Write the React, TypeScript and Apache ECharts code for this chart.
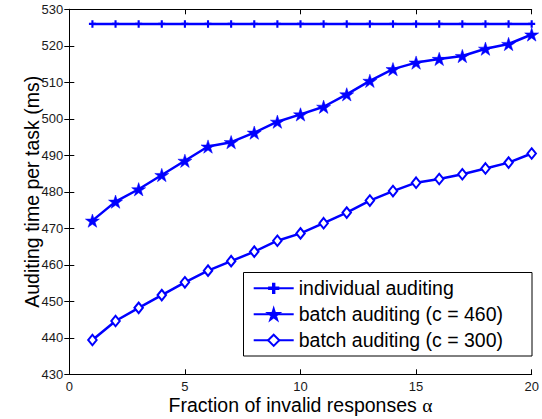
import React, { useEffect, useRef } from "react";
import * as echarts from "echarts";

const alphaValues = [1, 2, 3, 4, 5, 6, 7, 8, 9, 10, 11, 12, 13, 14, 15, 16, 17, 18, 19, 20];
const individualAuditing = [526, 526, 526, 526, 526, 526, 526, 526, 526, 526, 526, 526, 526, 526, 526, 526, 526, 526, 526, 526];
const batch460 = [472.1, 477.3, 480.7, 484.6, 488.5, 492.4, 493.6, 496.2, 499.2, 501.2, 503.3, 506.7, 510.4, 513.6, 515.4, 516.4, 517.2, 519.2, 520.5, 523.1];
const batch300 = [439.4, 444.6, 448.2, 451.7, 455.2, 458.4, 461.0, 463.6, 466.6, 468.6, 471.4, 474.3, 477.6, 480.2, 482.5, 483.5, 484.8, 486.4, 488.0, 490.5];
const seriesNames = ["individual auditing", "batch auditing (c = 460)", "batch auditing (c = 300)"];
const xTitle = "Fraction of invalid responses ";
const yTitle = "Auditing time per task (ms)";

const BLUE = "#0000ff";
const FONT = "'Liberation Sans', Arial, Helvetica, sans-serif";

const PLUS =
  "path://M-1.2,-4 L1.2,-4 L1.2,-1.2 L4,-1.2 L4,1.2 L1.2,1.2 L1.2,4 L-1.2,4 L-1.2,1.2 L-4,1.2 L-4,-1.2 L-1.2,-1.2 Z";
const STAR =
  "path://M0,-1 L0.2245,-0.309 L0.951,-0.309 L0.363,0.118 L0.588,0.809 L0,0.382 L-0.588,0.809 L-0.363,0.118 L-0.951,-0.309 L-0.2245,-0.309 Z";

function pairs(ys: number[]) {
  return alphaValues.map((x, i) => [x, ys[i]]);
}

export default function App() {
  const ref = useRef<HTMLDivElement>(null);
  useEffect(() => {
    if (!ref.current) return;
    const chart = echarts.init(ref.current, null, { renderer: "svg" });
    const axisCommon = {
      axisLine: { show: true, lineStyle: { color: "#000", width: 1 } },
      axisTick: { show: true, inside: true, length: 5, lineStyle: { color: "#000", width: 1 } },
      splitLine: { show: false },
    };
    chart.setOption({
      animation: false,
      backgroundColor: "#fff",
      textStyle: { fontFamily: FONT },
      grid: { left: 69.3, right: 10.3, top: 9.3, bottom: 44.7, containLabel: false, outerBoundsMode: "none" },
      xAxis: [
        {
          type: "value",
          min: 0,
          max: 20,
          interval: 5,
          position: "bottom",
          ...axisCommon,
          axisLabel: { color: "#1a1a1a", fontSize: 13, margin: 6, fontFamily: FONT },
          name: xTitle + "{a|α}",
          nameLocation: "middle",
          nameGap: 21,
          nameMoveOverlap: false,
          nameTextStyle: {
            fontSize: 19.5,
            color: "#000",
            fontFamily: FONT,
            rich: { a: { fontSize: 19.5, fontFamily: "'Liberation Serif', 'DejaVu Serif', serif", color: "#000" } },
          },
        },
        {
          type: "value",
          min: 0,
          max: 20,
          interval: 5,
          position: "top",
          ...axisCommon,
          axisLabel: { show: false },
        },
      ],
      yAxis: [
        {
          type: "value",
          min: 430,
          max: 530,
          interval: 10,
          position: "left",
          ...axisCommon,
          axisLabel: { color: "#1a1a1a", fontSize: 13, margin: 6, fontFamily: FONT },
          name: yTitle,
          nameLocation: "middle",
          nameGap: 27,
          nameMoveOverlap: false,
          nameRotate: 90,
          nameTextStyle: { fontSize: 19.5, color: "#000", fontFamily: FONT },
        },
        {
          type: "value",
          min: 430,
          max: 530,
          interval: 10,
          position: "right",
          ...axisCommon,
          axisLabel: { show: false },
        },
      ],
      legend: {
        data: seriesNames,
        orient: "vertical",
        left: 252.7,
        top: 278.3,
        padding: 0,
        itemWidth: 40,
        itemHeight: 14,
        itemGap: 6,
        z: 5,
        textStyle: { fontSize: 19.5, lineHeight: 20, color: "#000", fontFamily: FONT },
      },
      graphic: [
        {
          type: "rect",
          z: 3,
          shape: { x: 243.5, y: 272.5, width: 288.5, height: 83.5 },
          style: { fill: "#fff", stroke: "#000", lineWidth: 1 },
        },
      ],
      series: [
        {
          name: seriesNames[0],
          type: "line",
          data: pairs(individualAuditing),
          symbol: PLUS,
          symbolSize: [7, 7.5],
          lineStyle: { color: BLUE, width: 2.5 },
          itemStyle: { color: BLUE, borderColor: BLUE, borderWidth: 0 },
          z: 2,
        },
        {
          name: seriesNames[1],
          type: "line",
          data: pairs(batch460),
          symbol: STAR,
          symbolSize: [14, 13.3],
          lineStyle: { color: BLUE, width: 2.5 },
          itemStyle: { color: BLUE, borderColor: BLUE, borderWidth: 0.5 },
          z: 2,
        },
        {
          name: seriesNames[2],
          type: "line",
          data: pairs(batch300),
          symbol: "emptyDiamond",
          symbolSize: [8.5, 10.5],
          lineStyle: { color: BLUE, width: 2.5 },
          itemStyle: { color: BLUE, borderColor: BLUE, borderWidth: 2 },
          z: 2,
        },
      ],
    });
    return () => chart.dispose();
  }, []);
  return (
    <div
      ref={ref}
      style={{ position: "fixed", left: 0, top: 0, width: 542, height: 419, background: "#fff" }}
    />
  );
}
